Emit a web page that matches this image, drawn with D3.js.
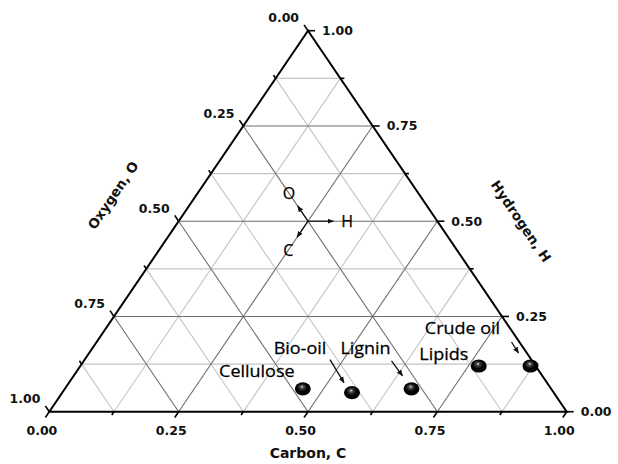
<!DOCTYPE html>
<html>
<head>
<meta charset="utf-8">
<script src="https://cdn.jsdelivr.net/npm/d3@7"></script>
<style>
  body { margin: 0; background: #fff; }
  svg { display: block; }
  .tick-label, .axis-title { font-family: "DejaVu Sans", Verdana, sans-serif; font-weight: bold; fill: #111; }
  .note { font-family: "Open Sans", sans-serif; fill: #000; stroke: #000; stroke-width: 0.25; }
</style>
</head>
<body>
<div id="chart"></div>
<script>
// ternary composition of the materials (mass fractions)
const materials = ["Cellulose", "Bio-oil", "Lignin", "Lipids", "Crude oil"];
const carbon = [0.46, 0.56, 0.67, 0.77, 0.87];
const hydrogen = [0.06, 0.05, 0.06, 0.12, 0.12];
const oxygen = [0.48, 0.39, 0.27, 0.11, 0.01];

const majorTicks = [0, 0.25, 0.5, 0.75, 1];
const tickLabels = ["0.00", "0.25", "0.50", "0.75", "1.00"];
const gridSteps = [0.125, 0.25, 0.375, 0.5, 0.625, 0.75, 0.875];
const minorTicks = [0.125, 0.375, 0.625, 0.875];

const width = 618;
const height = 464;

const svg = d3
  .select("#chart")
  .append("svg")
  .attr("width", width)
  .attr("height", height);

// u = C + H/2 along the base, v = H up the height
const xScale = d3.scaleLinear().domain([0, 1]).range([49.3, 566.7]);
const yScale = d3.scaleLinear().domain([0, 1]).range([411.7, 30.7]);
const tern = (c, h) => [xScale(c + h / 2), yScale(h)];

const defs = svg.append("defs");
defs
  .append("marker")
  .attr("id", "arrow")
  .attr("viewBox", "0 0 10 10")
  .attr("refX", 9)
  .attr("refY", 5)
  .attr("markerWidth", 6.5)
  .attr("markerHeight", 6.5)
  .attr("markerUnits", "userSpaceOnUse")
  .attr("orient", "auto")
  .append("path")
  .attr("d", "M0,1 L10,5 L0,9 Z")
  .attr("fill", "#111");

const grad = defs
  .append("radialGradient")
  .attr("id", "ball")
  .attr("cx", "45%")
  .attr("cy", "45%")
  .attr("r", "60%")
  .attr("fx", "45%")
  .attr("fy", "33%");
grad.append("stop").attr("offset", "0%").attr("stop-color", "#f0f0f0");
grad.append("stop").attr("offset", "16%").attr("stop-color", "#555");
grad.append("stop").attr("offset", "50%").attr("stop-color", "#050505");
grad.append("stop").attr("offset", "100%").attr("stop-color", "#000");

// grid lines: constant H, constant C, constant O
const gridLines = [];
gridSteps.forEach((v) => {
  const major = v % 0.25 === 0;
  gridLines.push({ a: tern(0, v), b: tern(1 - v, v), major });
  gridLines.push({ a: tern(v, 0), b: tern(v, 1 - v), major });
  gridLines.push({ a: tern(1 - v, 0), b: tern(0, 1 - v), major });
});

svg
  .append("g")
  .selectAll("line")
  .data(gridLines.sort((p, q) => p.major - q.major))
  .enter()
  .append("line")
  .attr("x1", (d) => d.a[0])
  .attr("y1", (d) => d.a[1])
  .attr("x2", (d) => d.b[0])
  .attr("y2", (d) => d.b[1])
  .attr("stroke", (d) => (d.major ? "#6e6e6e" : "#c4c4c4"))
  .attr("stroke-width", 1.1);

// triangle frame
const corners = [tern(0, 0), tern(1, 0), tern(0, 1)];
svg
  .append("path")
  .attr("d", d3.line()(corners) + "Z")
  .attr("fill", "none")
  .attr("stroke", "#000")
  .attr("stroke-width", 2);

function unit(p, q) {
  const dx = q[0] - p[0];
  const dy = q[1] - p[1];
  const len = Math.hypot(dx, dy);
  return [dx / len, dy / len];
}

// each axis: where a value sits on the edge, and which way is outward
const axes = [
  { name: "C", at: (v) => tern(v, 0), out: unit(tern(0, 0), tern(0, -1)) },
  { name: "H", at: (v) => tern(1 - v, v), out: unit(tern(0, 0), tern(1, 0)) },
  { name: "O", at: (v) => tern(0, 1 - v), out: unit(tern(0, 0), tern(-1, 1)) },
];

const tickData = [];
axes.forEach((axis) => {
  majorTicks.forEach((v, i) =>
    tickData.push({ axis, v, len: 7, label: tickLabels[i] })
  );
  minorTicks.forEach((v) => tickData.push({ axis, v, len: 4 }));
});

const tickG = svg.append("g");
tickG
  .selectAll("line")
  .data(tickData)
  .enter()
  .append("line")
  .attr("x1", (d) => d.axis.at(d.v)[0])
  .attr("y1", (d) => d.axis.at(d.v)[1])
  .attr("x2", (d) => d.axis.at(d.v)[0] + d.axis.out[0] * d.len)
  .attr("y2", (d) => d.axis.at(d.v)[1] + d.axis.out[1] * d.len)
  .attr("stroke", "#000")
  .attr("stroke-width", 1.6);

function labelPos(d) {
  const p = d.axis.at(d.v);
  const e = [p[0] + d.axis.out[0] * d.len, p[1] + d.axis.out[1] * d.len];
  if (d.axis.name === "C") return { x: e[0] - 3.5, y: e[1] + 17.5, anchor: "middle" };
  if (d.axis.name === "H") return { x: e[0] + 7, y: e[1] + 4.5, anchor: "start" };
  return { x: e[0] - 5, y: e[1] - 2.5, anchor: "end" };
}

tickG
  .selectAll("text")
  .data(tickData.filter((d) => d.label))
  .enter()
  .append("text")
  .attr("class", "tick-label")
  .attr("font-size", 12.5)
  .attr("x", (d) => labelPos(d).x)
  .attr("y", (d) => labelPos(d).y)
  .attr("text-anchor", (d) => labelPos(d).anchor)
  .text((d) => d.label);

// axis titles
svg
  .append("text")
  .attr("class", "axis-title")
  .attr("font-size", 14)
  .attr("text-anchor", "middle")
  .attr("x", xScale(0.5))
  .attr("y", 458)
  .text("Carbon, C");

const leftAngle = (Math.atan2(corners[2][1] - corners[0][1], corners[2][0] - corners[0][0]) * 180) / Math.PI;
svg
  .append("text")
  .attr("class", "axis-title")
  .attr("font-size", 13.5)
  .attr("text-anchor", "middle")
  .attr("transform", `translate(117,198) rotate(${leftAngle})`)
  .text("Oxygen, O");

svg
  .append("text")
  .attr("class", "axis-title")
  .attr("font-size", 13.5)
  .attr("text-anchor", "middle")
  .attr("transform", `translate(517,224) rotate(${-leftAngle})`)
  .text("Hydrogen, H");

// direction key in the middle of the plot
const keyCenter = [0.25, 0.5];
const keyArrows = [
  { label: "O", dir: [-1, 1], head: 0.04, text: 0.074 },
  { label: "H", dir: [1, 0], head: 0.049, text: 0.07 },
  { label: "C", dir: [0, -1], head: 0.042, text: 0.076 },
];
const keyG = svg.append("g");
keyArrows.forEach((k) => {
  const p0 = tern(keyCenter[0], keyCenter[1]);
  const p1 = tern(keyCenter[0] + k.dir[0] * k.head, keyCenter[1] + k.dir[1] * k.head);
  const pt = tern(keyCenter[0] + k.dir[0] * k.text, keyCenter[1] + k.dir[1] * k.text);
  keyG
    .append("line")
    .attr("x1", p0[0])
    .attr("y1", p0[1])
    .attr("x2", p1[0])
    .attr("y2", p1[1])
    .attr("stroke", "#111")
    .attr("stroke-width", 1.2)
    .attr("marker-end", "url(#arrow)");
  keyG
    .append("text")
    .attr("class", "note")
    .attr("font-size", 16)
    .attr("text-anchor", "middle")
    .attr("x", pt[0] + (k.label === "H" ? 3 : 0))
    .attr("y", pt[1])
    .attr("dy", "0.36em")
    .text(k.label);
});

// material labels: offsets from the dot, with optional pointer arrows
const labelDx = [-46, -52, -46, -35, -68];
const labelDy = [-17, -44, -40, -12, -38];
const pointerFrom = [null, [-22, -33], [-20, -28], null, [-19, -24]];
const pointerTo = [null, [-8, -10], [-9, -13], null, [-12, -13]];

const points = materials.map((name, i) => ({
  name,
  pos: tern(carbon[i], hydrogen[i]),
  i,
}));

const noteG = svg.append("g");
points.forEach((d) => {
  const [x, y] = d.pos;
  noteG
    .append("text")
    .attr("class", "note")
    .attr("font-size", 15.5)
    .attr("text-anchor", "middle")
    .attr("transform", `translate(${x + labelDx[d.i]},${y + labelDy[d.i]}) scale(1.16,1)`)
    .attr("dy", "0.36em")
    .text(d.name);
  if (pointerFrom[d.i]) {
    noteG
      .append("line")
      .attr("x1", x + pointerFrom[d.i][0])
      .attr("y1", y + pointerFrom[d.i][1])
      .attr("x2", x + pointerTo[d.i][0])
      .attr("y2", y + pointerTo[d.i][1])
      .attr("stroke", "#111")
      .attr("stroke-width", 1.3)
      .attr("marker-end", "url(#arrow)");
  }
});

svg
  .append("g")
  .selectAll("ellipse")
  .data(points)
  .enter()
  .append("ellipse")
  .attr("cx", (d) => d.pos[0])
  .attr("cy", (d) => d.pos[1])
  .attr("rx", 8)
  .attr("ry", 6.6)
  .attr("fill", "url(#ball)");
</script>
</body>
</html>
